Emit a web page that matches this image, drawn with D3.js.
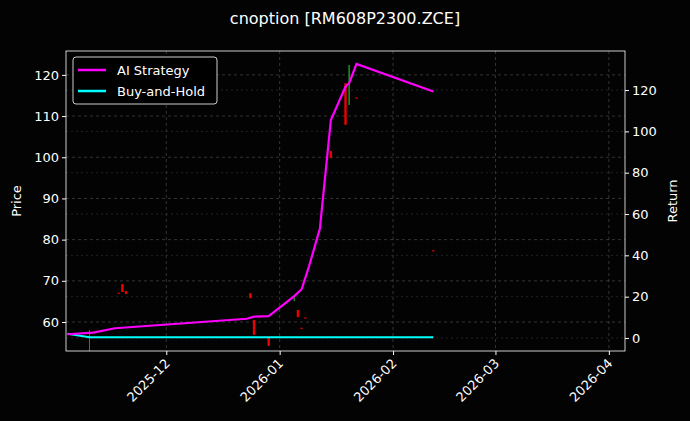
<!DOCTYPE html><html><head><meta charset="utf-8"><script src="https://cdn.jsdelivr.net/npm/d3@7"></script>
<style>body{margin:0;background:#000}svg{font-family:"DejaVu Sans",sans-serif}</style></head><body><svg id="c" width="690" height="421"></svg><script>
const stratDates=["2025-11-04","2025-11-11","2025-11-17","2025-12-23","2025-12-25","2025-12-29","2026-01-05","2026-01-07","2026-01-09","2026-01-12","2026-01-15","2026-01-19","2026-01-20","2026-01-22","2026-02-12"];
const stratReturn=[1.8,2.6,4.7,9.3,10.3,10.6,20.3,23.6,34.5,53,105.5,121.6,123.3,132.6,119.3];
const bhDates=["2025-11-04","2025-11-10","2026-02-12"];
const bhReturn=[2,0.4,0.4];
const candleDates=["2025-11-10","2025-11-18","2025-11-19","2025-11-20","2025-12-24","2025-12-25","2025-12-29","2026-01-05","2026-01-06","2026-01-07","2026-01-08","2026-01-15","2026-01-19","2026-01-20","2026-01-22","2026-02-12"];
const candleOpen=[57.2,67.1,69.2,67.5,67,60.5,56.1,65.1,62.9,58.6,61.1,101.5,118,112.7,114.5,77.4];
const candleClose=[57.6,66.9,67.3,66.8,65.8,56.9,54.2,66.3,61.2,58.4,60.9,99.8,107.9,122.4,114.3,77.2];
const candleHigh=[58.1,67.1,69.2,67.5,67,60.5,56.1,66.3,62.9,58.6,61.1,101.5,118,122.4,114.5,77.4];
const candleLow=[52.9,66.9,67.3,66.8,65.8,56.9,54.2,65.1,61.2,58.4,60.9,99.8,107.9,112.7,114.3,77.2];
const xTicks=["2025-12-01","2026-01-01","2026-02-01","2026-03-01","2026-04-01"];
const priceTicks=[60,70,80,90,100,110,120];
const retTicks=[0,20,40,60,80,100,120];

const p=d3.timeParse("%Y-%m-%d");
const svg=d3.select("#c");
svg.append("rect").attr("width",690).attr("height",421).attr("fill","#030303");
const L=66,R=625,T=51,B=351;
const x=d3.scaleTime().domain([new Date(2025,10,3,14),new Date(2026,3,5,10)]).range([L,R]);
const yP=d3.scaleLinear().domain([52.96,125.8]).range([B,T]);
const yR=d3.scaleLinear().domain([-6.3,138.9]).range([B,T]);
const g=svg.append("g");
g.selectAll(".vx").data(xTicks).join("line").attr("x1",d=>x(p(d))).attr("x2",d=>x(p(d))).attr("y1",T).attr("y2",B).attr("stroke","#555").attr("stroke-dasharray","3,3").attr("stroke-width",0.6);
g.selectAll(".hp").data(priceTicks).join("line").attr("x1",L).attr("x2",R).attr("y1",d=>yP(d)).attr("y2",d=>yP(d)).attr("stroke","#555").attr("stroke-dasharray","3,3").attr("stroke-width",0.6);
g.selectAll(".hr").data(retTicks).join("line").attr("x1",L).attr("x2",R).attr("y1",d=>yR(d)).attr("y2",d=>yR(d)).attr("stroke","#444").attr("stroke-dasharray","2,3").attr("stroke-width",0.5);
const cd=candleDates.map((d,i)=>({d:p(d),o:candleOpen[i],c:candleClose[i],h:candleHigh[i],l:candleLow[i]}));
const col=d=>d.c>=d.o?"#1f8f1f":"#e00";
const cg=g.selectAll(".cd").data(cd).join("g");
cg.append("line").attr("x1",d=>x(d.d)).attr("x2",d=>x(d.d)).attr("y1",d=>yP(d.h)).attr("y2",d=>yP(d.l)).attr("stroke",col).attr("stroke-width",1);
cg.append("rect").attr("x",d=>x(d.d)-(d.c>=d.o?0.6:1.2)).attr("width",d=>d.c>=d.o?1.2:2.4).attr("y",d=>yP(Math.max(d.o,d.c))).attr("height",d=>Math.max(1,Math.abs(yP(d.o)-yP(d.c)))).attr("fill",col);
const line=d3.line().x(d=>x(d[0])).y(d=>yR(d[1]));
g.append("path").attr("d",line(bhDates.map((d,i)=>[p(d),bhReturn[i]]))).attr("fill","none").attr("stroke","#00ffff").attr("stroke-width",2);
g.append("path").attr("d",line(stratDates.map((d,i)=>[p(d),stratReturn[i]]))).attr("fill","none").attr("stroke","#ff00ff").attr("stroke-width",2.2);
svg.append("rect").attr("x",L).attr("y",T).attr("width",R-L).attr("height",B-T).attr("fill","none").attr("stroke","#fff").attr("stroke-width",0.8);
const ax=svg.append("g").attr("transform",`translate(0,${B})`).call(d3.axisBottom(x).tickValues(xTicks.map(p)).tickFormat(d3.timeFormat("%Y-%m")).tickSize(4));
ax.selectAll("text").attr("transform","rotate(-45)").attr("text-anchor","end").attr("dx","-0.5em").attr("dy","0.4em");
const al=svg.append("g").attr("transform",`translate(${L},0)`).call(d3.axisLeft(yP).tickValues(priceTicks).tickSize(4));
const ar=svg.append("g").attr("transform",`translate(${R},0)`).call(d3.axisRight(yR).tickValues(retTicks).tickSize(4));
[ax,al,ar].forEach(a=>{a.select(".domain").remove();a.selectAll("line").attr("stroke","#fff");a.selectAll("text").attr("fill","#fff").attr("font-size",13).attr("font-family","DejaVu Sans");});
svg.append("text").attr("x",345).attr("y",24).attr("text-anchor","middle").attr("fill","#fff").attr("font-size",16).text("cnoption [RM608P2300.ZCE]");
svg.append("text").attr("transform","translate(21,201) rotate(-90)").attr("text-anchor","middle").attr("fill","#fff").attr("font-size",13).text("Price");
svg.append("text").attr("transform","translate(677,201) rotate(-90)").attr("text-anchor","middle").attr("fill","#fff").attr("font-size",13).text("Return");
const lg=svg.append("g");
lg.append("rect").attr("x",73).attr("y",57).attr("width",144).attr("height",47).attr("rx",3).attr("fill","#000").attr("stroke","#ccc").attr("stroke-width",1);
[["AI Strategy","#ff00ff",70],["Buy-and-Hold","#00ffff",91]].forEach(([t,c,yy])=>{
lg.append("line").attr("x1",78).attr("x2",106).attr("y1",yy).attr("y2",yy).attr("stroke",c).attr("stroke-width",2.5);
lg.append("text").attr("x",117).attr("y",yy+4.5).attr("fill","#fff").attr("font-size",13).text(t);});
</script></body></html>
